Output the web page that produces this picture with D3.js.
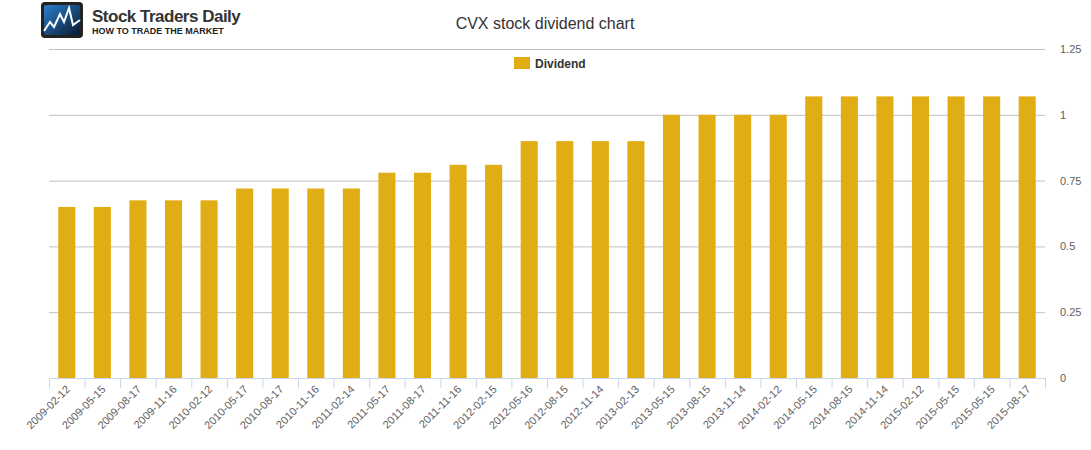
<!DOCTYPE html>
<html><head><meta charset="utf-8">
<script src="https://cdn.jsdelivr.net/npm/d3@7"></script>
<style>body{margin:0;background:#fff;font-family:"Liberation Sans",Arial,sans-serif}</style>
</head><body><svg id="c" width="1091" height="450"></svg>
<script>
const categories=["2009-02-12","2009-05-15","2009-08-17","2009-11-16","2010-02-12","2010-05-17","2010-08-17","2010-11-16","2011-02-14","2011-05-17","2011-08-17","2011-11-16","2012-02-15","2012-05-16","2012-08-15","2012-11-14","2013-02-13","2013-05-15","2013-08-15","2013-11-14","2014-02-12","2014-05-15","2014-08-15","2014-11-14","2015-02-12","2015-05-15","2015-05-15","2015-08-17"];
const dividend=[0.65,0.65,0.675,0.675,0.675,0.72,0.72,0.72,0.72,0.78,0.78,0.81,0.81,0.90,0.90,0.90,0.90,1.00,1.00,1.00,1.00,1.07,1.07,1.07,1.07,1.07,1.07,1.07];
const yTicks=[0,0.25,0.5,0.75,1,1.25];
const svg=d3.select("#c");
const L=49,R=1045,T=49,B=378;
const x=d3.scaleBand().domain(d3.range(categories.length)).range([L,R]).paddingInner(0.52).paddingOuter(0.26);
const y=d3.scaleLinear().domain([0,1.25]).range([B,T]);
// grid
svg.append("g").selectAll("line").data(yTicks.filter(d=>d>0)).join("line")
 .attr("x1",L).attr("x2",R).attr("y1",d=>y(d)+0.5).attr("y2",d=>y(d)+0.5).attr("stroke","#c0c0c0");
svg.append("g").selectAll("text").data(yTicks).join("text")
 .attr("x",1060).attr("y",d=>y(d)+4).attr("font-size",11).attr("fill","#606060").text(d=>d);
// bars
svg.append("g").selectAll("rect").data(dividend).join("rect")
 .attr("x",(d,i)=>x(i)).attr("width",x.bandwidth()).attr("y",d=>y(d)).attr("height",d=>B-y(d)).attr("fill","#e0ae14");
// x axis
const step=x.step();
svg.append("line").attr("x1",L).attr("x2",R).attr("y1",B+0.5).attr("y2",B+0.5).attr("stroke","#ccd6eb");
svg.append("g").selectAll("line").data(d3.range(categories.length+1)).join("line")
 .attr("x1",i=>L+i*step+0.5).attr("x2",i=>L+i*step+0.5).attr("y1",B).attr("y2",B+10).attr("stroke","#ccd6eb");
svg.append("g").selectAll("text").data(categories).join("text")
 .attr("transform",(d,i)=>`translate(${x(i)+x.bandwidth()/2+4},${B+12}) rotate(-45)`)
 .attr("text-anchor","end").attr("font-size",11).attr("fill","#606060").text(d=>d);
// title
svg.append("text").attr("x",545).attr("y",29).attr("text-anchor","middle").attr("font-size",16).attr("fill","#333").text("CVX stock dividend chart");
// legend
svg.append("rect").attr("x",514).attr("y",57).attr("width",16).attr("height",12).attr("fill","#e0ae14");
svg.append("text").attr("x",535).attr("y",68).attr("font-size",12).attr("font-weight","bold").attr("fill","#333").text("Dividend");
// logo
const g=svg.append("g");
const grad=svg.append("defs").append("linearGradient").attr("id","lg").attr("x1",0).attr("y1",0).attr("x2",1).attr("y2",1);
grad.append("stop").attr("offset",0).attr("stop-color","#2a7fd0");grad.append("stop").attr("offset",1).attr("stop-color","#0a1a30");
g.append("rect").attr("x",41).attr("y",2).attr("width",42).attr("height",36).attr("rx",4).attr("fill","#222");
g.append("rect").attr("x",44).attr("y",5).attr("width",36).attr("height",30).attr("rx",2).attr("fill","url(#lg)");
g.append("polyline").attr("points","44,31 50,22 54,27 60,14 64,22 69,8 73,25 80,20").attr("fill","none").attr("stroke","#fff").attr("stroke-width",2);
g.append("text").attr("x",92).attr("y",22).attr("font-size",17).attr("font-weight","bold").attr("fill","#333").attr("letter-spacing","-0.5").text("Stock Traders Daily");
g.append("text").attr("x",92).attr("y",34).attr("font-size",9).attr("font-weight","bold").attr("fill","#222").text("HOW TO TRADE THE MARKET");
</script></body></html>
